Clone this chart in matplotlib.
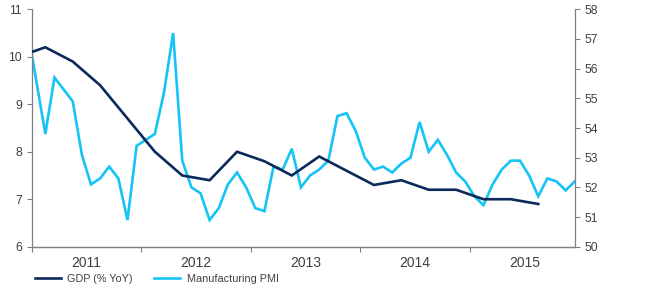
import numpy as np
import pandas as pd
import matplotlib
matplotlib.use("Agg")
import matplotlib.pyplot as plt

plt.rcParams['font.family'] = ['Liberation Sans', 'DejaVu Sans']

# GDP (% YoY), quarterly, plotted at the middle month of each quarter
gdp_months = pd.date_range('2010-11-01', '2015-08-01', freq='3MS')
gdp = [10.0, 10.2, 9.9, 9.4, 8.7, 8.0, 7.5, 7.4, 8.0, 7.8,
       7.5, 7.9, 7.6, 7.3, 7.4, 7.2, 7.2, 7.0, 7.0, 6.9]

# Manufacturing PMI, monthly
pmi_months = pd.date_range('2010-12-01', '2015-12-01', freq='MS')
pmi = [57.4, 55.6, 53.8, 55.7, 55.3, 54.9, 53.1, 52.1, 52.3, 52.7, 52.3, 50.9, 53.4,
       53.6, 53.8, 55.2, 57.2, 52.9, 52.0, 51.8, 50.9, 51.3, 52.1, 52.5, 52.0,
       51.3, 51.2, 52.7, 52.6, 53.3, 52.0, 52.4, 52.6, 52.9, 54.4, 54.5, 53.9,
       53.0, 52.6, 52.7, 52.5, 52.8, 53.0, 54.2, 53.2, 53.6, 53.1, 52.5, 52.2,
       51.7, 51.4, 52.1, 52.6, 52.9, 52.9, 52.4, 51.7, 52.3, 52.2, 51.9, 52.2]

years = [2011, 2012, 2013, 2014, 2015]


def to_year(d):
    # mid-month position as a decimal year
    return d.year + (d.month - 0.5) / 12


gdp_x = [to_year(d) for d in gdp_months]
pmi_x = [to_year(d) for d in pmi_months]

navy = '#0b2a5b'
cyan = '#14c4f6'
grey = '#7f7f7f'

fig = plt.figure(figsize=(6.46, 2.87), dpi=100)
ax = fig.add_axes([0.049, 0.1404, 0.841, 0.8272])
ax2 = ax.twinx()

l1, = ax.plot(gdp_x, gdp, color=navy, lw=1.9, solid_joinstyle='miter', zorder=3)
l2, = ax2.plot(pmi_x, pmi, color=cyan, lw=1.9, solid_joinstyle='miter', zorder=2)
ax.set_zorder(ax2.get_zorder() + 1)
ax.patch.set_visible(False)

ax.set_xlim(2011.0, 2015.96)
ax.set_ylim(6, 11)
ax2.set_ylim(50, 58)
ax.set_yticks(range(6, 12))
ax2.set_yticks(range(50, 59))

ax.set_xticks(years)
ax.set_xticklabels([])
ax.set_xticks([y + 0.5 for y in years], minor=True)
ax.set_xticklabels([str(y) for y in years], minor=True)
ax.tick_params(axis='x', which='minor', length=0, pad=6.5)
ax.tick_params(axis='x', which='major', length=4, width=0.8, color=grey)

for a in (ax, ax2):
    for s in a.spines.values():
        s.set_color(grey)
        s.set_linewidth(0.9)
    a.spines['top'].set_visible(False)
    a.tick_params(labelsize=8.8, colors='#404040', width=0.8, length=3.5)
    a.tick_params(axis='y', color=grey)
ax.spines['right'].set_visible(False)
ax2.spines['left'].set_visible(False)
ax.tick_params(axis='x', which='both', colors='#404040')
ax.tick_params(axis='x', which='major', color=grey)

fig.legend([l1, l2], ['GDP (% YoY)', 'Manufacturing PMI'], loc='center left',
           bbox_to_anchor=(0.054, 0.028), ncol=2, frameon=False, fontsize=7.8,
           handlelength=2.4, handletextpad=0.58, columnspacing=2.0,
           borderpad=0, borderaxespad=0, labelcolor='#404040')

fig.savefig('out.png', dpi=100)
